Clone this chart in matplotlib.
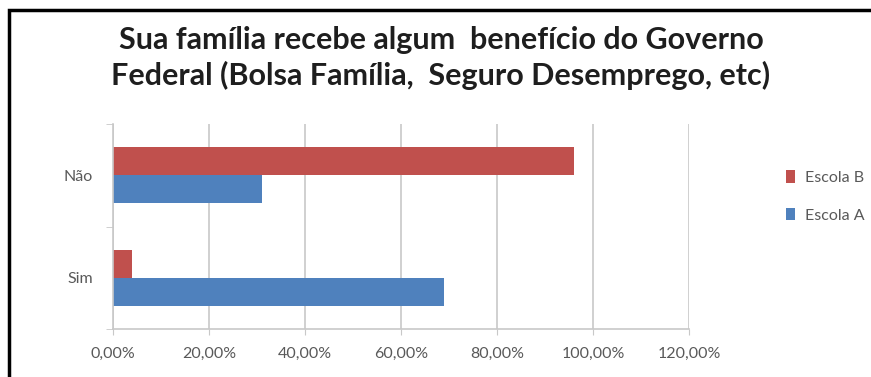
import matplotlib
matplotlib.use("Agg")
import matplotlib.pyplot as plt
from matplotlib.patches import Rectangle
from matplotlib.ticker import FuncFormatter
import numpy as np

# respostas por escola (fração de alunos)
categorias = ["Sim", "Não"]
escola_a = [0.69, 0.31]
escola_b = [0.04, 0.96]
xticks = [0, 0.2, 0.4, 0.6, 0.8, 1.0, 1.2]

plt.rcParams['font.family'] = ['Lato', 'DejaVu Sans']

cor_a = '#4F81BD'
cor_b = '#C0504D'
cinza = '#595959'

fig = plt.figure(figsize=(8.71, 3.77), dpi=100)
ax = fig.add_axes([113/871, 1 - 329/377, 576/871, 205/377])

y = np.arange(len(categorias))
h = 0.275
ax.barh(y - h/2, escola_a, height=h, color=cor_a, label='Escola A')
ax.barh(y + h/2, escola_b, height=h, color=cor_b, label='Escola B')

ax.set_xlim(0, 1.2)
ax.set_ylim(-0.5, 1.5)
ax.set_xticks(xticks)
ax.xaxis.set_major_formatter(FuncFormatter(lambda v, p: f"{v*100:.2f}%".replace('.', ',')))
ax.set_yticks(y)
ax.set_yticklabels(categorias)
ax.set_yticks([-0.5, 0.5, 1.5], minor=True)

ax.grid(axis='x', color='#C8C8C8', linewidth=1.2)
ax.set_axisbelow(True)
for s in ['top', 'right']:
    ax.spines[s].set_visible(False)
for s in ['left', 'bottom']:
    ax.spines[s].set_color('#C8C8C8')
    ax.spines[s].set_linewidth(1.2)

ax.tick_params(axis='x', colors='#C8C8C8', labelcolor=cinza, labelsize=11.5,
               length=4, pad=9)
ax.tick_params(axis='y', which='major', length=0, labelcolor=cinza,
               labelsize=11.5, pad=14.5)
ax.tick_params(axis='y', which='minor', length=5, color='#C8C8C8')

# legenda com a Escola B em cima
hs, ls = ax.get_legend_handles_labels()
fig.legend(hs[::-1], ls[::-1], loc='upper left', bbox_to_anchor=(772/871, 1 - 156/377),
           frameon=False, fontsize=11.5, labelcolor=cinza, handlelength=0.55,
           handleheight=0.8, handletextpad=0.6, labelspacing=1.45)

fig.text(441/871, 1 - 58/377,
         "Sua família recebe algum  benefício do Governo\nFederal (Bolsa Família,  Seguro Desemprego, etc)",
         ha='center', va='center', fontsize=22, fontweight='bold',
         color='#1E1E1E', linespacing=1.28)

# moldura preta
fig.patches.append(Rectangle((9/871, -0.1), 1.2, 1 - 10/377 + 0.1,
                             transform=fig.transFigure, fill=False,
                             edgecolor='black', linewidth=2.5))

fig.savefig('out.png', dpi=100)
